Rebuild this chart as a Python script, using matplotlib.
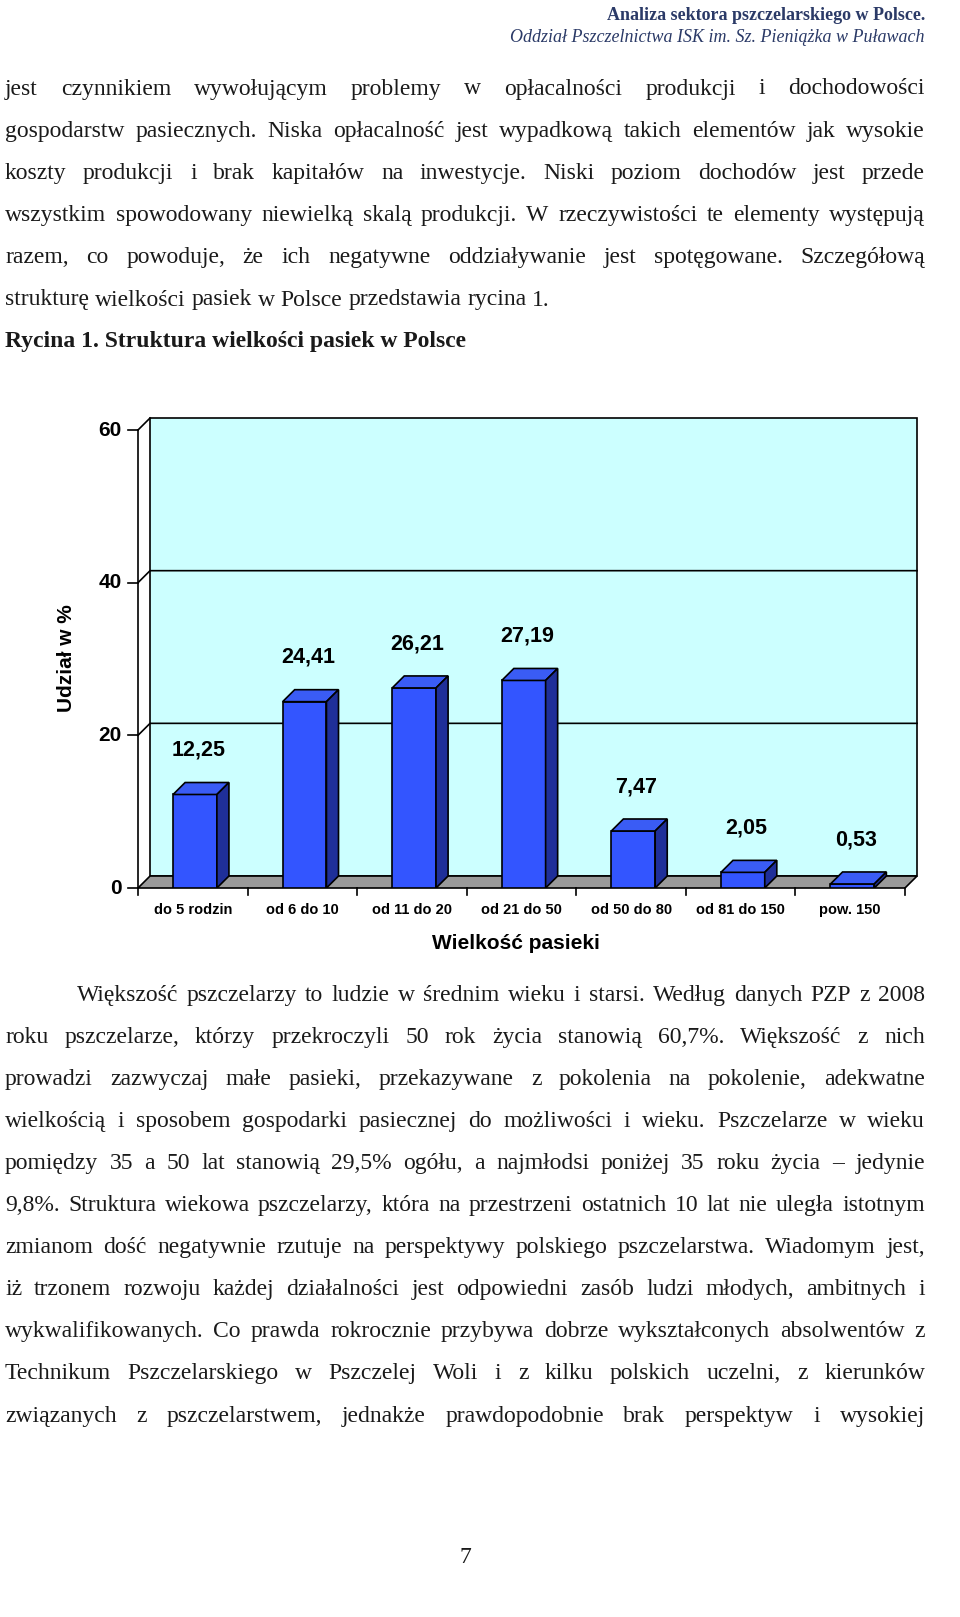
import matplotlib
matplotlib.use("Agg")
import matplotlib.pyplot as plt
from matplotlib.patches import Polygon

# chart data
categories = ["do 5 rodzin", "od 6 do 10", "od 11 do 20", "od 21 do 50",
              "od 50 do 80", "od 81 do 150", "pow. 150"]
shares = [12.25, 24.41, 26.21, 27.19, 7.47, 2.05, 0.53]
share_labels = ["12,25", "24,41", "26,21", "27,19", "7,47", "2,05", "0,53"]
y_ticks = [0, 20, 40, 60]

header = ["Analiza sektora pszczelarskiego w Polsce.",
          "Oddział Pszczelnictwa ISK im. Sz. Pieniążka w Puławach"]
para_top = [
    "jest czynnikiem wywołującym problemy w opłacalności produkcji i dochodowości",
    "gospodarstw pasiecznych. Niska opłacalność jest wypadkową takich elementów jak wysokie",
    "koszty produkcji i brak kapitałów na inwestycje. Niski poziom dochodów jest przede",
    "wszystkim spowodowany niewielką skalą produkcji. W rzeczywistości te elementy występują",
    "razem, co powoduje, że ich negatywne oddziaływanie jest spotęgowane. Szczegółową",
    "strukturę wielkości pasiek w Polsce przedstawia rycina 1.",
]
caption = "Rycina 1. Struktura wielkości pasiek w Polsce"
para_bottom = [
    "Większość pszczelarzy to ludzie w średnim wieku i starsi. Według danych PZP z 2008",
    "roku pszczelarze, którzy przekroczyli 50 rok życia stanowią 60,7%. Większość z nich",
    "prowadzi zazwyczaj małe pasieki, przekazywane z pokolenia na pokolenie, adekwatne",
    "wielkością i sposobem gospodarki pasiecznej do możliwości i wieku. Pszczelarze w wieku",
    "pomiędzy 35 a 50 lat stanowią 29,5% ogółu, a najmłodsi poniżej 35 roku życia – jedynie",
    "9,8%. Struktura wiekowa pszczelarzy, która na przestrzeni ostatnich 10 lat nie uległa istotnym",
    "zmianom dość negatywnie rzutuje na perspektywy polskiego pszczelarstwa. Wiadomym jest,",
    "iż trzonem rozwoju każdej działalności jest odpowiedni zasób ludzi młodych, ambitnych i",
    "wykwalifikowanych. Co prawda rokrocznie przybywa dobrze wykształconych absolwentów z",
    "Technikum Pszczelarskiego w Pszczelej Woli i z kilku polskich uczelni, z kierunków",
    "związanych z pszczelarstwem, jednakże prawdopodobnie brak perspektyw i wysokiej",
]

W, H = 960, 1617
fig = plt.figure(figsize=(W / 100, H / 100), dpi=100)
page = fig.add_axes([0, 0, 1, 1])
page.set_xlim(0, W)
page.set_ylim(H, 0)
page.axis("off")
renderer = fig.canvas.get_renderer()

SERIF = "Liberation Serif"
TXT = "#1a1a1a"
FS = 17


def justify(line, y, x0, x1, fs=FS, weight="normal", stretch=True):
    words = line.split(" ")
    arts = [page.text(0, y, w, fontsize=fs, family=SERIF, weight=weight,
                      color=TXT, va="center") for w in words]
    widths = [a.get_window_extent(renderer).width for a in arts]
    if stretch and len(words) > 1:
        gap = (x1 - x0 - sum(widths)) / (len(words) - 1)
    else:
        gap = fs * 0.35
    x = x0
    for a, w in zip(arts, widths):
        a.set_x(x)
        x += w + gap


# header
page.text(925, 15, header[0], fontsize=13, family=SERIF, weight="bold",
          color="#2b3a67", ha="right", va="center")
page.text(925, 38, header[1], fontsize=13, family=SERIF, style="italic",
          color="#2b3a67", ha="right", va="center")

for i, line in enumerate(para_top):
    justify(line, 89 + i * 42.2, 5, 925, stretch=(i < len(para_top) - 1))
page.text(5, 342, caption, fontsize=FS, family=SERIF, weight="bold",
          color=TXT, va="center")

for i, line in enumerate(para_bottom):
    x0 = 77 if i == 0 else 5
    justify(line, 995 + i * 42.1, x0, 925)

page.text(465, 1557, "7", fontsize=FS, family=SERIF, color=TXT,
          ha="center", va="center")

# chart (pseudo 3D)
ax = fig.add_axes([138 / W, 1 - 888 / H, 767 / W, 458 / H])
ax.set_xlim(0, len(categories))
ax.set_ylim(0, 60)
ax.axis("off")
dx, dy = 0.11, 1.57
n = len(categories)

ax.add_patch(Polygon([(dx, dy), (n + dx, dy), (n + dx, 60 + dy), (dx, 60 + dy)],
                     closed=True, facecolor="#ccffff", edgecolor="black",
                     lw=1.2, clip_on=False, zorder=1))
for v in y_ticks[1:3]:
    ax.plot([0, dx, n + dx], [v, v + dy, v + dy], color="black", lw=1.2,
            clip_on=False, zorder=2)
ax.plot([0, dx], [60, 60 + dy], color="black", lw=1.2, clip_on=False, zorder=2)
ax.add_patch(Polygon([(0, 0), (n, 0), (n + dx, dy), (dx, dy)], closed=True,
                     facecolor="#9a9a9a", edgecolor="black", lw=1.2,
                     clip_on=False, zorder=2))
ax.plot([0, 0], [0, 60], color="black", lw=1.2, clip_on=False, zorder=2)
for v in y_ticks:
    ax.plot([-0.09, 0], [v, v], color="black", lw=1.2, clip_on=False)
    ax.text(-0.15, v, str(v), fontsize=15, weight="bold", family="Liberation Sans",
            ha="right", va="center")
for i in range(n + 1):
    ax.plot([i, i], [0, -0.9], color="black", lw=1.2, clip_on=False)

bw = 0.4
for i, (v, lab) in enumerate(zip(shares, share_labels)):
    x0 = i + 0.5 - bw / 2 + 0.02
    x1 = x0 + bw
    ax.add_patch(Polygon([(x0, 0), (x1, 0), (x1, v), (x0, v)], closed=True,
                         facecolor="#3355ff", edgecolor="black", lw=1.2, zorder=5))
    ax.add_patch(Polygon([(x0, v), (x1, v), (x1 + dx, v + dy), (x0 + dx, v + dy)],
                         closed=True, facecolor="#3a5cf5", edgecolor="black",
                         lw=1.2, zorder=5))
    ax.add_patch(Polygon([(x1, 0), (x1 + dx, dy), (x1 + dx, v + dy), (x1, v)],
                         closed=True, facecolor="#1f2f99", edgecolor="black",
                         lw=1.2, zorder=5))
    ax.text(i + 0.55, v + 5.8, lab, fontsize=15.5, weight="bold",
            family="Liberation Sans", ha="center", va="center", zorder=6)
    ax.text(i + 0.5, -2.9, categories[i], fontsize=10.5, weight="bold",
            family="Liberation Sans", ha="center", va="center")

ax.text(3.45, -7.3, "Wielkość pasieki", fontsize=15, weight="bold",
        family="Liberation Sans", ha="center", va="center")
page.text(66, 658, "Udział w %", fontsize=15, weight="bold",
          family="Liberation Sans", rotation=90, ha="center", va="center")

fig.savefig("out.png", dpi=100)
